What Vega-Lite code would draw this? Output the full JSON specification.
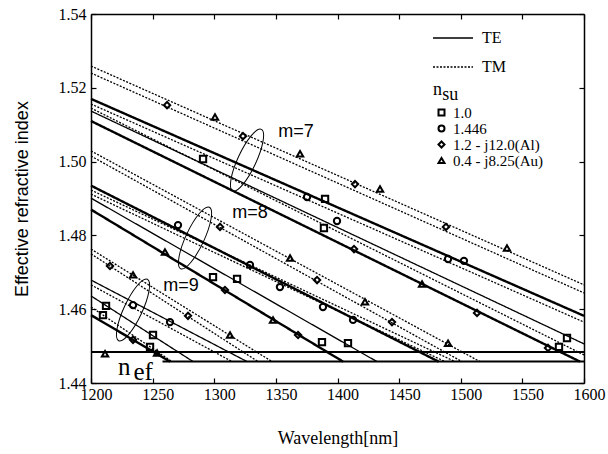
{
  "$schema": "https://vega.github.io/schema/vega-lite/v6.json",
  "width": 493,
  "height": 369,
  "autosize": {"type": "none"},
  "padding": {"left": 91, "top": 14, "right": 24, "bottom": 71},
  "background": "white",
  "config": {
    "view": {"stroke": null},
    "font": "Liberation Serif",
    "style": {"guide-label": {"font": "Liberation Serif", "fill": "black"}, "guide-title": {"font": "Liberation Serif", "fill": "black", "fontWeight": "normal"}},
    "axis": {"grid": false, "domainColor": "black", "tickColor": "black", "labelColor": "black", "titleColor": "black", "domainWidth": 1.5, "tickWidth": 1.2, "tickSize": -5, "labelFlush": false, "labelFont": "Liberation Serif", "titleFont": "Liberation Serif", "labelFontSize": 16}
  },
  "datasets": {
    "curves": [
      {"id": "7A", "pol": "TM", "overlap": "single", "lam": 1200, "n": 1.5259},
      {"id": "7A", "pol": "TM", "overlap": "single", "lam": 1600, "n": 1.4666},
      {"id": "7B", "pol": "TM", "overlap": "single", "lam": 1200, "n": 1.5240},
      {"id": "7B", "pol": "TM", "overlap": "single", "lam": 1600, "n": 1.4644},
      {"id": "7C", "pol": "TE", "overlap": "double", "lam": 1200, "n": 1.5170},
      {"id": "7C", "pol": "TE", "overlap": "double", "lam": 1600, "n": 1.4582},
      {"id": "7D", "pol": "TM", "overlap": "single", "lam": 1200, "n": 1.5156},
      {"id": "7D", "pol": "TM", "overlap": "single", "lam": 1600, "n": 1.4565},
      {"id": "7E", "pol": "TM", "overlap": "single", "lam": 1200, "n": 1.5145},
      {"id": "7E", "pol": "TM", "overlap": "single", "lam": 1600, "n": 1.4476},
      {"id": "7F", "pol": "TE", "overlap": "single", "lam": 1200, "n": 1.5137},
      {"id": "7F", "pol": "TE", "overlap": "single", "lam": 1600, "n": 1.4506},
      {"id": "7G", "pol": "TE", "overlap": "double", "lam": 1200, "n": 1.5110},
      {"id": "7G", "pol": "TE", "overlap": "double", "lam": 1596.7, "n": 1.4458},
      {"id": "8A", "pol": "TM", "overlap": "single", "lam": 1200, "n": 1.5029},
      {"id": "8A", "pol": "TM", "overlap": "single", "lam": 1515.6, "n": 1.4458},
      {"id": "8B", "pol": "TM", "overlap": "single", "lam": 1200, "n": 1.5015},
      {"id": "8B", "pol": "TM", "overlap": "single", "lam": 1501.0, "n": 1.4458},
      {"id": "8C", "pol": "TE", "overlap": "double", "lam": 1200, "n": 1.4935},
      {"id": "8C", "pol": "TE", "overlap": "double", "lam": 1482.0, "n": 1.4458},
      {"id": "8D", "pol": "TM", "overlap": "single", "lam": 1200, "n": 1.4923},
      {"id": "8D", "pol": "TM", "overlap": "single", "lam": 1495.3, "n": 1.4458},
      {"id": "8E", "pol": "TM", "overlap": "single", "lam": 1200, "n": 1.4912},
      {"id": "8E", "pol": "TM", "overlap": "single", "lam": 1487.2, "n": 1.4458},
      {"id": "8F", "pol": "TE", "overlap": "single", "lam": 1200, "n": 1.4901},
      {"id": "8F", "pol": "TE", "overlap": "single", "lam": 1432.0, "n": 1.4458},
      {"id": "8G", "pol": "TE", "overlap": "double", "lam": 1200, "n": 1.4870},
      {"id": "8G", "pol": "TE", "overlap": "double", "lam": 1404.5, "n": 1.4458},
      {"id": "9A", "pol": "TM", "overlap": "single", "lam": 1200, "n": 1.4763},
      {"id": "9A", "pol": "TM", "overlap": "single", "lam": 1346.9, "n": 1.4458},
      {"id": "9B", "pol": "TM", "overlap": "single", "lam": 1200, "n": 1.4750},
      {"id": "9B", "pol": "TM", "overlap": "single", "lam": 1335.5, "n": 1.4458},
      {"id": "9C", "pol": "TE", "overlap": "single", "lam": 1200, "n": 1.4679},
      {"id": "9C", "pol": "TE", "overlap": "single", "lam": 1326.6, "n": 1.4458},
      {"id": "9D", "pol": "TM", "overlap": "single", "lam": 1200, "n": 1.4666},
      {"id": "9D", "pol": "TM", "overlap": "single", "lam": 1314.4, "n": 1.4458},
      {"id": "9F", "pol": "TE", "overlap": "single", "lam": 1200, "n": 1.4636},
      {"id": "9F", "pol": "TE", "overlap": "single", "lam": 1282.8, "n": 1.4458},
      {"id": "9E", "pol": "TM", "overlap": "single", "lam": 1200, "n": 1.4606},
      {"id": "9E", "pol": "TM", "overlap": "single", "lam": 1265.7, "n": 1.4458},
      {"id": "9G", "pol": "TE", "overlap": "double", "lam": 1200, "n": 1.4584},
      {"id": "9G", "pol": "TE", "overlap": "double", "lam": 1264.1, "n": 1.4458}
    ],
    "cutoff": [
      {"id": "H1", "lam": 1200, "n": 1.4484},
      {"id": "H1", "lam": 1600, "n": 1.4484},
      {"id": "H2", "lam": 1258, "n": 1.4458},
      {"id": "H2", "lam": 1600, "n": 1.4458}
    ],
    "marks": [
      {"sub": "1.2 - j12.0(Al)", "lam": 1261.7, "n": 1.5153},
      {"sub": "0.4 - j8.25(Au)", "lam": 1300.6, "n": 1.5121},
      {"sub": "1.2 - j12.0(Al)", "lam": 1323.3, "n": 1.5069},
      {"sub": "0.4 - j8.25(Au)", "lam": 1369.6, "n": 1.5021},
      {"sub": "1.2 - j12.0(Al)", "lam": 1414.2, "n": 1.4939},
      {"sub": "0.4 - j8.25(Au)", "lam": 1434.5, "n": 1.4926},
      {"sub": "1.2 - j12.0(Al)", "lam": 1488.0, "n": 1.4823},
      {"sub": "0.4 - j8.25(Au)", "lam": 1537.5, "n": 1.4766},
      {"sub": "1.0", "lam": 1290.9, "n": 1.5007},
      {"sub": "1.446", "lam": 1375.3, "n": 1.4904},
      {"sub": "1.0", "lam": 1389.9, "n": 1.4899},
      {"sub": "1.446", "lam": 1399.6, "n": 1.4839},
      {"sub": "1.0", "lam": 1389.0, "n": 1.4820},
      {"sub": "1.2 - j12.0(Al)", "lam": 1413.4, "n": 1.4763},
      {"sub": "1.446", "lam": 1489.7, "n": 1.4736},
      {"sub": "1.446", "lam": 1502.6, "n": 1.4731},
      {"sub": "0.4 - j8.25(Au)", "lam": 1468.6, "n": 1.4668},
      {"sub": "1.2 - j12.0(Al)", "lam": 1513.2, "n": 1.4590},
      {"sub": "1.2 - j12.0(Al)", "lam": 1570.8, "n": 1.4495},
      {"sub": "1.0", "lam": 1586.2, "n": 1.4522},
      {"sub": "1.0", "lam": 1579.7, "n": 1.4498},
      {"sub": "1.2 - j12.0(Al)", "lam": 1304.7, "n": 1.4823},
      {"sub": "1.2 - j12.0(Al)", "lam": 1383.4, "n": 1.4679},
      {"sub": "1.2 - j12.0(Al)", "lam": 1444.2, "n": 1.4565},
      {"sub": "0.4 - j8.25(Au)", "lam": 1361.5, "n": 1.4739},
      {"sub": "0.4 - j8.25(Au)", "lam": 1422.3, "n": 1.4620},
      {"sub": "0.4 - j8.25(Au)", "lam": 1489.7, "n": 1.4508},
      {"sub": "1.446", "lam": 1270.6, "n": 1.4828},
      {"sub": "1.446", "lam": 1329.0, "n": 1.4720},
      {"sub": "1.446", "lam": 1353.3, "n": 1.4660},
      {"sub": "1.446", "lam": 1388.2, "n": 1.4606},
      {"sub": "1.446", "lam": 1412.6, "n": 1.4571},
      {"sub": "1.0", "lam": 1299.0, "n": 1.4687},
      {"sub": "1.0", "lam": 1318.5, "n": 1.4682},
      {"sub": "1.2 - j12.0(Al)", "lam": 1308.7, "n": 1.4652},
      {"sub": "0.4 - j8.25(Au)", "lam": 1260.0, "n": 1.4755},
      {"sub": "0.4 - j8.25(Au)", "lam": 1347.7, "n": 1.4571},
      {"sub": "1.2 - j12.0(Al)", "lam": 1368.0, "n": 1.4530},
      {"sub": "1.0", "lam": 1387.4, "n": 1.4511},
      {"sub": "1.0", "lam": 1408.5, "n": 1.4508},
      {"sub": "1.2 - j12.0(Al)", "lam": 1215.4, "n": 1.4717},
      {"sub": "0.4 - j8.25(Au)", "lam": 1234.1, "n": 1.4693},
      {"sub": "1.2 - j12.0(Al)", "lam": 1278.7, "n": 1.4582},
      {"sub": "0.4 - j8.25(Au)", "lam": 1312.8, "n": 1.4530},
      {"sub": "1.446", "lam": 1234.1, "n": 1.4611},
      {"sub": "1.446", "lam": 1264.1, "n": 1.4565},
      {"sub": "1.0", "lam": 1212.2, "n": 1.4609},
      {"sub": "1.0", "lam": 1209.7, "n": 1.4584},
      {"sub": "1.0", "lam": 1250.3, "n": 1.4530},
      {"sub": "1.0", "lam": 1247.9, "n": 1.4498},
      {"sub": "1.2 - j12.0(Al)", "lam": 1234.1, "n": 1.4517},
      {"sub": "0.4 - j8.25(Au)", "lam": 1253.6, "n": 1.4481},
      {"sub": "0.4 - j8.25(Au)", "lam": 1211.4, "n": 1.4479}
    ],
    "groups": [
      {"m": "m=7", "lam": 1326.6, "n": 1.5004, "tlam": 1366.3, "tn": 1.5080},
      {"m": "m=8", "lam": 1284.4, "n": 1.4793, "tlam": 1329.0, "tn": 1.4861},
      {"m": "m=9", "lam": 1234.1, "n": 1.4598, "tlam": 1273.0, "tn": 1.4663}
    ],
    "symbols": [
      {"main": "n", "sub": "su", "lam": 1477.5, "n": 1.5180, "slam": 1485.0, "sn": 1.5167},
      {"main": "n", "sub": "ef", "lam": 1221.9, "n": 1.4422, "slam": 1234.5, "sn": 1.4408}
    ]
  },
  "layer": [
    {
      "data": {"name": "curves"},
      "mark": {"type": "line", "color": "black"},
      "encoding": {
        "x": {"field": "lam", "type": "quantitative", "scale": {"domain": [1200, 1600], "nice": false, "zero": false},
          "axis": {"orient": "bottom", "values": [1200, 1250, 1300, 1350, 1400, 1450, 1500, 1550, 1600], "format": "d", "labelFont": "Liberation Serif", "labelFontSize": 16, "labelPadding": 8, "labelOffset": 5, "title": "Wavelength[nm]", "titleFont": "Liberation Serif", "titleFontSize": 18, "titleFontWeight": "normal", "titlePadding": 27}},
        "y": {"field": "n", "type": "quantitative", "scale": {"domain": [1.44, 1.54], "nice": false, "zero": false},
          "axis": {"orient": "left", "values": [1.44, 1.46, 1.48, 1.5, 1.52, 1.54], "format": ".2f", "labelFont": "Liberation Serif", "labelFontSize": 16, "labelPadding": 10, "title": "Effective refractive index", "titleFont": "Liberation Sans", "titleFontSize": 18, "titleFontWeight": "normal", "titlePadding": 27}},
        "detail": {"field": "id"},
        "order": {"field": "lam", "type": "quantitative"},
        "strokeDash": {"field": "pol", "type": "nominal", "scale": {"domain": ["TE", "TM"], "range": [[1, 0], [2, 1.5]]},
          "legend": {"title": null, "orient": "none", "legendX": 341, "legendY": 3, "symbolType": "stroke", "symbolSize": 1600, "symbolStrokeWidth": 1.6, "symbolStrokeColor": "black", "labelFont": "Liberation Serif", "labelFontSize": 16, "labelColor": "black", "labelOffset": 8, "rowPadding": -15, "padding": 0}},
        "strokeWidth": {"field": "overlap", "type": "nominal", "scale": {"domain": ["single", "double"], "range": [1.3, 2.4]}, "legend": null}
      }
    },
    {
      "data": {"name": "cutoff"},
      "mark": {"type": "line", "color": "black", "strokeWidth": 2},
      "encoding": {
        "x": {"field": "lam", "type": "quantitative", "axis": {"orient": "top", "labels": false, "title": null, "values": [1200, 1250, 1300, 1350, 1400, 1450, 1500, 1550, 1600]}},
        "y": {"field": "n", "type": "quantitative", "axis": {"orient": "right", "labels": false, "title": null, "values": [1.44, 1.46, 1.48, 1.5, 1.52, 1.54]}},
        "detail": {"field": "id"}
      }
    },
    {
      "data": {"name": "marks"},
      "mark": {"type": "point", "filled": false, "color": "black", "strokeWidth": 2, "size": 40, "opacity": 1},
      "encoding": {
        "x": {"field": "lam", "type": "quantitative", "axis": null},
        "y": {"field": "n", "type": "quantitative", "axis": null},
        "shape": {"field": "sub", "type": "nominal", "scale": {"domain": ["1.0", "1.446", "1.2 - j12.0(Al)", "0.4 - j8.25(Au)"], "range": ["square", "circle", "diamond", "triangle-up"]},
          "legend": {"title": null, "orient": "none", "legendX": 343, "legendY": 91, "symbolSize": 36, "symbolStrokeWidth": 2, "symbolStrokeColor": "black", "labelFont": "Liberation Serif", "labelFontSize": 15, "labelColor": "black", "labelOffset": 4, "rowPadding": 0, "padding": 0}}
      }
    },
    {
      "data": {"name": "groups"},
      "mark": {"type": "point", "shape": "M0,-1A0.27,1,0,1,1,0,1A0.27,1,0,1,1,0,-1", "size": 4600, "angle": 25, "filled": false, "color": "black", "strokeWidth": 1, "opacity": 1},
      "encoding": {
        "x": {"field": "lam", "type": "quantitative", "axis": null},
        "y": {"field": "n", "type": "quantitative", "axis": null}
      }
    },
    {
      "data": {"name": "groups"},
      "mark": {"type": "text", "font": "Liberation Sans", "fontSize": 18, "align": "center", "baseline": "middle", "color": "black"},
      "encoding": {
        "x": {"field": "tlam", "type": "quantitative", "axis": null},
        "y": {"field": "tn", "type": "quantitative", "axis": null},
        "text": {"field": "m"}
      }
    },
    {
      "data": {"name": "symbols"},
      "mark": {"type": "text", "font": "Liberation Serif", "fontSize": 20, "align": "left", "baseline": "alphabetic", "color": "black"},
      "encoding": {
        "x": {"field": "lam", "type": "quantitative", "axis": null},
        "y": {"field": "n", "type": "quantitative", "axis": null},
        "text": {"field": "main"},
        "size": {"field": "sub", "type": "nominal", "scale": {"domain": ["su", "ef"], "range": [18, 25]}, "legend": null}
      }
    },
    {
      "data": {"name": "symbols"},
      "mark": {"type": "text", "font": "Liberation Serif", "fontSize": 12, "align": "left", "baseline": "alphabetic", "color": "black"},
      "encoding": {
        "x": {"field": "slam", "type": "quantitative", "axis": null},
        "y": {"field": "sn", "type": "quantitative", "axis": null},
        "text": {"field": "sub"},
        "size": {"field": "sub", "type": "nominal", "scale": {"domain": ["su", "ef"], "range": [11, 12]}, "legend": null}
      }
    }
  ],
  "resolve": {"axis": {"x": "independent", "y": "independent"}}
}
